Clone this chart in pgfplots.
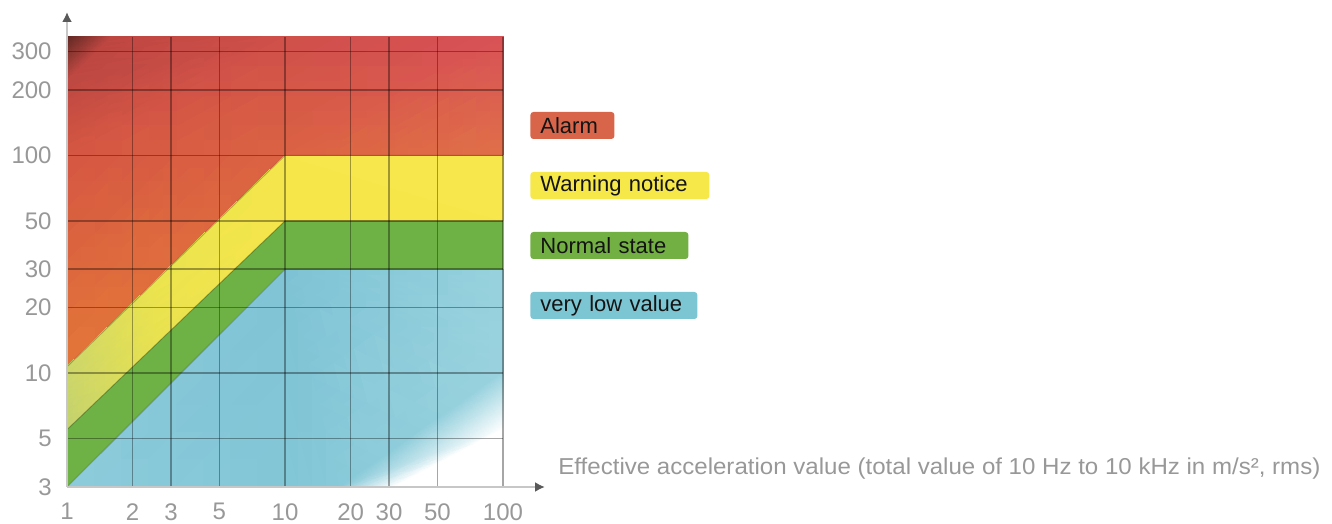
\documentclass[border=0pt]{standalone}
\usepackage{pgfplots}
\pgfplotsset{compat=1.18}
\usepackage{fontspec}
\setmainfont{Liberation Sans}
\usepackage{graphicx}
\usetikzlibrary{arrows.meta}

\definecolor{tickgray}{RGB}{152,152,152}
\definecolor{greenC}{RGB}{110,177,68}
\definecolor{alarmC}{RGB}{216,101,74}
\definecolor{warnC}{RGB}{247,232,74}
\definecolor{normC}{RGB}{115,176,68}
\definecolor{lowC}{RGB}{124,197,210}

\begin{document}
\begin{tikzpicture}[x=1pt,y=1pt]
\useasboundingbox (0,0) rectangle (666,262);
\begin{axis}[
  at={(33.5pt,18.5pt)}, anchor=south west,
  scale only axis, width=218pt, height=225pt,
  xmode=log, ymode=log,
  xmin=1, xmax=100, ymin=3, ymax=350,
  xtick={1,2,3,5,10,20,30,50,100},
  xticklabels={1,2,3,5,10,20,30,50,100},
  ytick={3,5,10,20,30,50,100,200,300},
  yticklabels={3,5,10,20,30,50,100,200,300},
  minor xtick={}, minor ytick={},
  grid=major,
  major grid style={black, opacity=0.35, line width=0.8pt},
  major tick length=0pt,
  axis lines=left,
  axis line style={draw=black!22, line width=1.3pt},
  x axis line style={-{Latex[length=5pt,width=5pt,color=black!65]}, shorten >=-21pt},
  y axis line style={-{Latex[length=5pt,width=5pt,color=black!65]}, shorten >=-12.5pt},
  axis on top,
  /pgf/number format/assume math mode=true,
  tick label style={font=\fontsize{12}{12}\selectfont, text=tickgray, inner sep=0pt},
  xticklabel style={anchor=north, yshift=-8pt},
  yticklabel style={anchor=east, xshift=-7.5pt},
]
% red (alarm) region
\addplot[patch, shader=interp, mesh/color input=explicit] table[meta=c] {
x y c
1 350 rgb255=95,40,35
1.6 350 rgb255=190,70,65
1 220 rgb255=190,72,66
1.6 350 rgb255=190,70,65
10 350 rgb255=208,80,74
1 220 rgb255=190,72,66
1 220 rgb255=190,72,66
10 350 rgb255=208,80,74
1 100 rgb255=214,88,66
10 350 rgb255=208,80,74
10 100 rgb255=220,100,66
1 100 rgb255=214,88,66
10 350 rgb255=208,80,74
100 350 rgb255=216,82,86
10 100 rgb255=220,100,66
100 350 rgb255=216,82,86
100 100 rgb255=224,112,72
10 100 rgb255=220,100,66
1 100 rgb255=214,88,66
10 100 rgb255=220,100,66
1 10.7 rgb255=228,120,56
};
% yellow (warning) region
\addplot[patch, shader=interp, mesh/color input=explicit] table[meta=c] {
x y c
1 5.5 rgb255=195,210,110
2.5 13.24 rgb255=232,226,80
1 10.7 rgb255=205,214,105
1 10.7 rgb255=205,214,105
2.5 13.24 rgb255=232,226,80
2.5 26.04 rgb255=236,228,78
2.5 13.24 rgb255=232,226,80
10 50 rgb255=246,230,74
2.5 26.04 rgb255=236,228,78
2.5 26.04 rgb255=236,228,78
10 50 rgb255=246,230,74
10 100 rgb255=246,230,74
10 50 rgb255=246,230,74
100 50 rgb255=247,231,76
10 100 rgb255=246,230,74
100 50 rgb255=247,231,76
100 100 rgb255=247,231,76
10 100 rgb255=246,230,74
};
% green (normal) region
\addplot[draw=none, fill=greenC] coordinates {(1,3) (10,30) (100,30) (100,50) (10,50) (1,5.5)} -- cycle;
% blue (very low) region
\addplot[patch, shader=interp, mesh/color input=explicit] table[meta=c] {
x y c
1 3 rgb255=140,203,218
10 30 rgb255=126,195,213
10 3 rgb255=130,199,215
10 3 rgb255=130,199,215
10 30 rgb255=126,195,213
18 3 rgb255=137,202,217
10 30 rgb255=126,195,213
100 30 rgb255=152,210,222
100 10 rgb255=155,211,223
10 30 rgb255=126,195,213
100 10 rgb255=155,211,223
18 3 rgb255=137,202,217
18 3 rgb255=137,202,217
100 10 rgb255=155,211,223
100 5.5 rgb255=255,255,255
18 3 rgb255=137,202,217
100 5.5 rgb255=255,255,255
32 3 rgb255=255,255,255
32 3 rgb255=255,255,255
100 5.5 rgb255=255,255,255
100 3 rgb255=255,255,255
};
% zone boundaries
\addplot[black, opacity=0.25, line width=0.5pt] coordinates {(1,10.7) (10,100) (100,100)};
\addplot[black, opacity=0.25, line width=0.5pt] coordinates {(1,5.5) (10,50) (100,50)};
\addplot[black, opacity=0.25, line width=0.5pt] coordinates {(1,3) (10,30) (100,30)};
\end{axis}

\tikzset{legbox/.style={anchor=west, rounded corners=1.5pt, minimum height=13.5pt,
  inner xsep=5pt, inner ysep=0pt, font=\fontsize{11}{13}\selectfont, text=black!92, align=left}}
\node[legbox, fill=alarmC, text width=32pt] at (265,199.25) {Alarm};
\node[legbox, fill=warnC, text width=79.5pt] at (265,169.25) {Warning notice};
\node[legbox, fill=normC, text width=69pt] at (265,139.25) {Normal state};
\node[legbox, fill=lowC, text width=73.5pt] at (265,109.25) {very low value};

\node[anchor=west, text=tickgray, inner sep=0pt] at (279,27.5)
  {\resizebox{381pt}{\height}{\fontsize{11.5}{13}\selectfont Effective acceleration value (total value of 10 Hz to 10 kHz in m/s², rms)}};
\end{tikzpicture}
\end{document}
